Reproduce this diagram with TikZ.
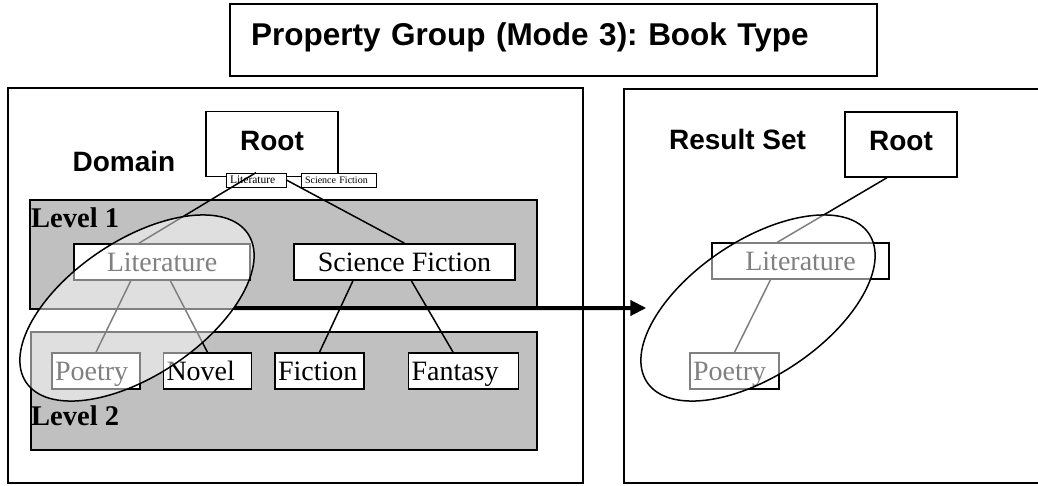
\documentclass[tikz,border=0pt]{standalone}
\usepackage{fontspec}
\setmainfont{Liberation Serif}
\newfontfamily\headfont{Liberation Sans}
\frenchspacing
\usetikzlibrary{shapes.geometric, arrows.meta, positioning}
\definecolor{levelgray}{RGB}{192,192,192}
\tikzstyle{frame} = [draw, line width=1.5pt]
\tikzstyle{level} = [draw, line width=1.5pt, fill=levelgray]
\tikzstyle{heading} = [font=\headfont\bfseries\fontsize{28}{30}\selectfont, inner sep=0pt]
\tikzstyle{levelname} = [font=\bfseries\fontsize{28.5}{30}\selectfont, inner sep=0pt, anchor=base west]
\tikzstyle{rootbox} = [draw, line width=1.5pt, fill=white, heading, text height=20pt, text depth=8pt, minimum height=65pt]
\tikzstyle{tag} = [draw, fill=white, line width=0.8pt, font=\fontsize{10}{11}\selectfont, inner xsep=4pt, inner ysep=0pt, align=left, minimum height=14pt]
\tikzstyle{kind} = [draw, line width=1.5pt, fill=white, font=\fontsize{28}{30}\selectfont, text height=22pt, text depth=3pt, minimum height=36pt, inner ysep=0pt]
\tikzstyle{leaf} = [kind, inner xsep=3pt, align=left]
\tikzstyle{line} = [draw, line width=1.5pt]
\tikzstyle{selection} = [ellipse, draw, line width=1.5pt, fill=white, fill opacity=0.5, minimum width=267pt, minimum height=135pt, inner sep=0pt, rotate=33.8]
\tikzstyle{flow} = [draw, line width=4pt, -{Triangle[length=16pt, width=15pt]}, shorten >=14pt]
\begin{document}
\begin{tikzpicture}[x=1pt, y=-1pt]
\useasboundingbox (0,0) rectangle (1038,485);
\node [draw, line width=2pt, font=\headfont\bfseries\fontsize{31.5}{34}\selectfont, text height=22pt, text depth=12pt, inner xsep=21pt, text width=605pt, align=left, minimum height=72pt] (title) at (553.5,40) {Property Group (Mode 3): Book Type};
% domain side
\draw [frame] (8,88) rectangle (583,483);
\draw [level] (30,200) rectangle (537,309);
\draw [level] (31,332) rectangle (537,450);
\node [heading, anchor=base] (domain) at (124,171) {Domain};
\node [rootbox, minimum width=132pt] (root1) at (272,144) {Root};
\node [tag, text width=52pt, font=\fontsize{11.5}{12}\selectfont] (litsmall) at (256,180) {Literature};
\node [tag, text width=67pt] (scismall) at (338.5,180) {Science Fiction};
\node [levelname] (level1) at (31,227) {Level 1};
\node [levelname] (level2) at (31,425) {Level 2};
\node [kind, minimum width=176pt] (lit1) at (162,262) {Literature};
\node [kind, minimum width=221pt] (sci1) at (404.5,262) {Science Fiction};
\node [leaf, text width=82pt] (poetry1) at (96,371) {Poetry};
\node [leaf, text width=82pt, right=22pt of poetry1] (novel1) {Novel};
\node [leaf, text width=83pt, right=22pt of novel1] (fiction1) {Fiction};
\node [leaf, text width=104pt, right=43pt of fiction1] (fantasy1) {Fantasy};
% result side
\draw [frame] (624,89) rectangle (1045,483);
\node [heading, anchor=base] (resultset) at (737.5,149) {Result Set};
\node [rootbox, minimum width=112pt] (root2) at (901,144.5) {Root};
\node [kind, minimum width=177pt] (lit2) at (800.5,261) {Literature};
\node [leaf, text width=83pt] (poetry2) at (734.5,371) {Poetry};
\path [line] (litsmall.north) -- (lit1.141);
\path [line] (litsmall.east) -- (sci1.north);
\path [line] (lit1.211) -- (poetry1.north);
\path [line] (lit1.294) -- (novel1.north);
\path [line] (sci1.200) -- (fiction1.north);
\path [line] (sci1.290) -- (fantasy1.119);
\path [line] (root2.247) -- (lit2.141);
\path [line] (lit2.212) -- (poetry2.north);
\node [selection] (sel1) at (137,308) {};
\node [selection] (sel2) at (758,308) {};
\path [flow] (sel1) -- (sel2);
\end{tikzpicture}
\end{document}
